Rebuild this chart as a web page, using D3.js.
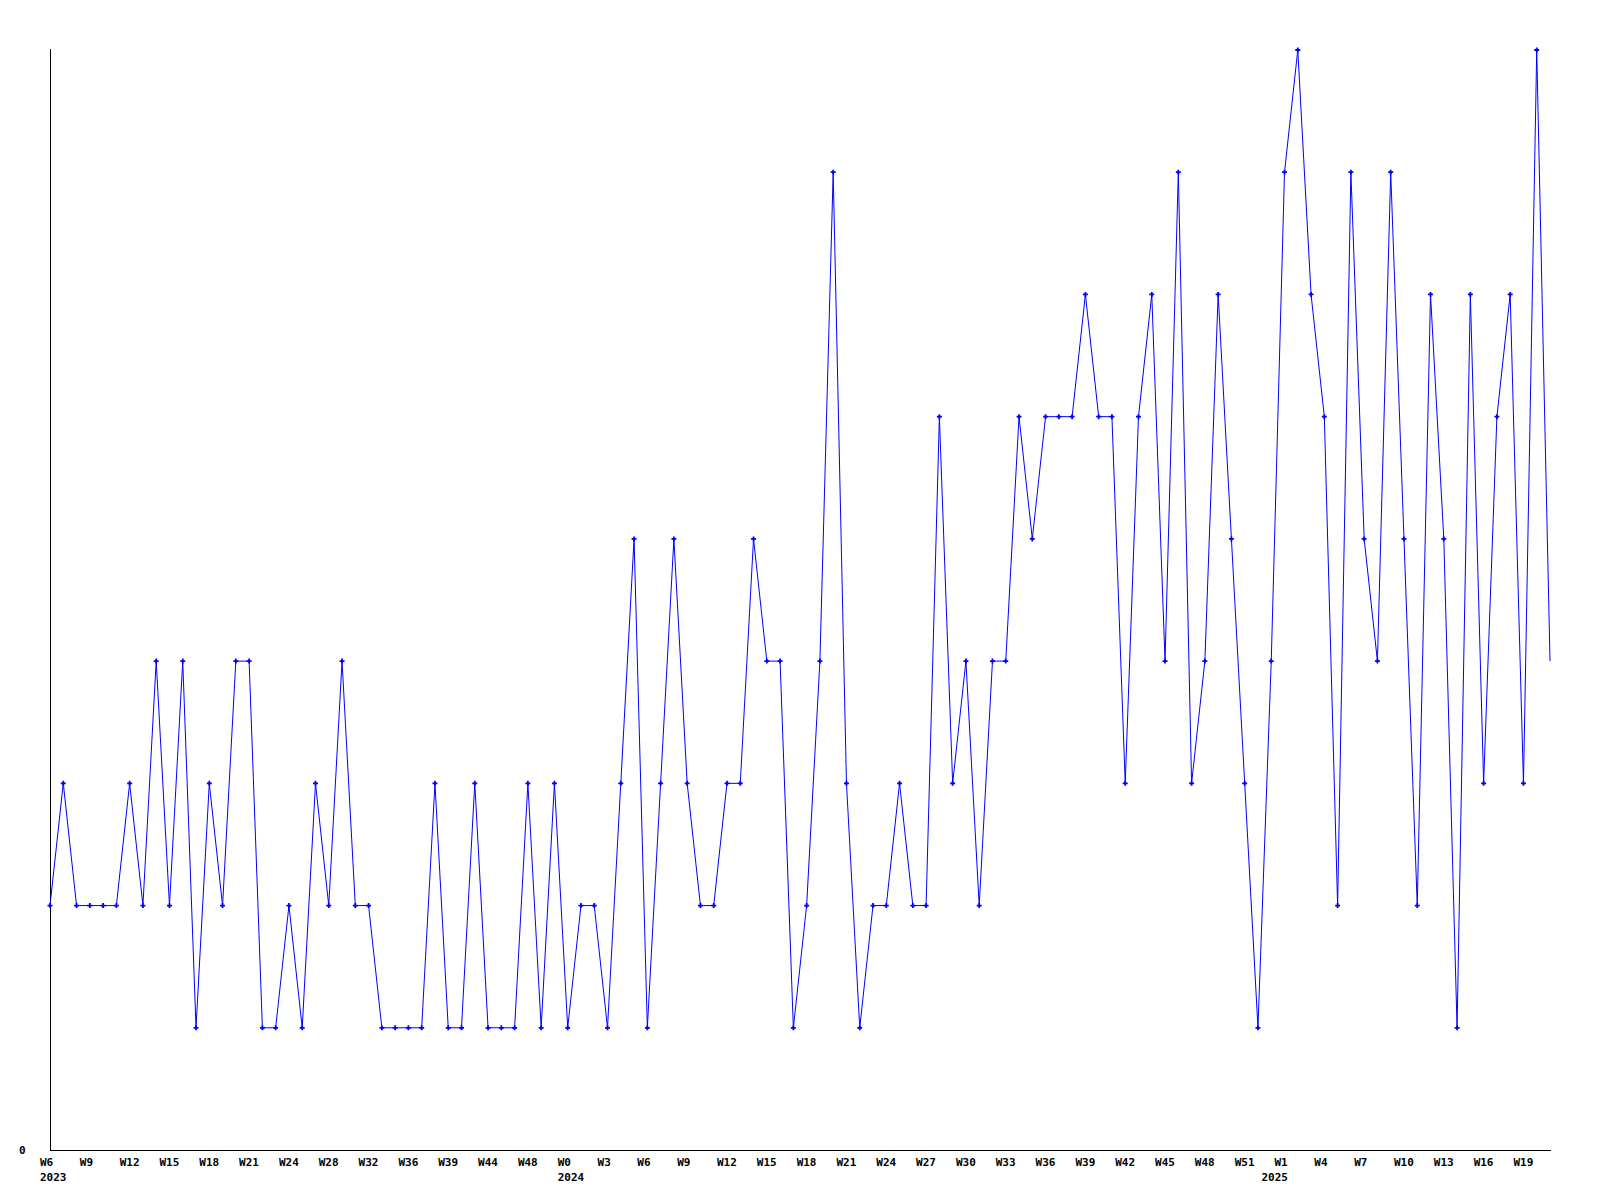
<!DOCTYPE html>
<html>
<head>
<meta charset="utf-8">
<script src="https://cdn.jsdelivr.net/npm/d3@7"></script>
<style>
  html, body { margin: 0; padding: 0; background: #fff; }
  svg { display: block; }
  text { font-family: "DejaVu Sans Mono", "Liberation Mono", monospace; font-weight: bold; font-size: 11px; fill: #000; }
</style>
</head>
<body>
<svg id="chart" width="1600" height="1200"></svg>
<script>
// Weekly values, 2023 W6 onwards (one per week)
const values = [
  2,3,2,2,2,2,3,2,4,2,
  4,1,3,2,4,4,1,1,2,1,
  3,2,4,2,2,1,1,1,1,3,
  1,1,3,1,1,1,3,1,3,1,
  2,2,1,3,5,1,3,5,3,2,
  2,3,3,5,4,4,1,2,4,8,
  3,1,2,2,3,2,2,6,3,4,
  2,4,4,6,5,6,6,6,7,6,
  6,3,6,7,4,8,3,4,7,5,
  3,1,4,8,9,7,6,2,8,5,
  4,8,5,2,7,5,1,7,3,6,
  7,3,9,4
];
// Tick labels shown every third week
const tickLabels = [
  "W6","W9","W12","W15","W18","W21","W24","W28","W32","W36","W39","W44","W48",
  "W0","W3","W6","W9","W12","W15","W18","W21","W24","W27","W30","W33","W36","W39","W42","W45","W48","W51",
  "W1","W4","W7","W10","W13","W16","W19"
];
const tickEvery = 3;
const yearLabels = ["2023","2024","2025"];
const yearTickIndex = [0, 13, 31]; // index into tickLabels
const yTickValues = [0];

(function () {
const svg = d3.select("#chart");
const mLeft = 50, mRight = 1550, mTop = 50, mBottom = 1150;

const x = d3.scaleLinear().domain([0, values.length - 1]).range([mLeft, mRight]);
const y = d3.scaleLinear().domain([0, 9]).range([mBottom, mTop]);

// axes lines
svg.append("line").attr("x1", mLeft + 0.5).attr("x2", mLeft + 0.5).attr("y1", mTop - 1).attr("y2", mBottom)
  .attr("stroke", "#000").attr("stroke-width", 1);
svg.append("line").attr("x1", mLeft).attr("x2", mRight + 1).attr("y1", mBottom + 0.5).attr("y2", mBottom + 0.5)
  .attr("stroke", "#000").attr("stroke-width", 1);

// y label(s)
svg.selectAll("text.ylab").data(yTickValues).enter().append("text")
  .attr("class", "ylab")
  .attr("x", 19).attr("y", d => y(d) + 4)
  .text(d => d);

// x tick labels
svg.selectAll("text.xlab").data(tickLabels).enter().append("text")
  .attr("class", "xlab")
  .attr("x", (d, i) => x(i * tickEvery) - 10)
  .attr("y", mBottom + 16)
  .text(d => d);

svg.selectAll("text.year").data(yearLabels).enter().append("text")
  .attr("class", "year")
  .attr("x", (d, i) => x(yearTickIndex[i] * tickEvery) - (i === 2 ? 23 : 10))
  .attr("y", mBottom + 31)
  .text(d => d);

// line
const line = d3.line().x((d, i) => x(i)).y(d => y(d));
svg.append("path").datum(values)
  .attr("d", line)
  .attr("fill", "none")
  .attr("stroke", "#0000ff")
  .attr("stroke-width", 1);

// markers (small crosses), skip the last point
const markerPts = values.slice(0, values.length - 1);
svg.selectAll("path.mk").data(markerPts).enter().append("path")
  .attr("class", "mk")
  .attr("transform", (d, i) => `translate(${x(i)},${y(d)})`)
  .attr("d", "M-2.5,0H2.5M0,-2.5V2.5")
  .attr("stroke", "#0000ff")
  .attr("stroke-width", 1.8)
  .attr("fill", "none");
})();
</script>
</body>
</html>
